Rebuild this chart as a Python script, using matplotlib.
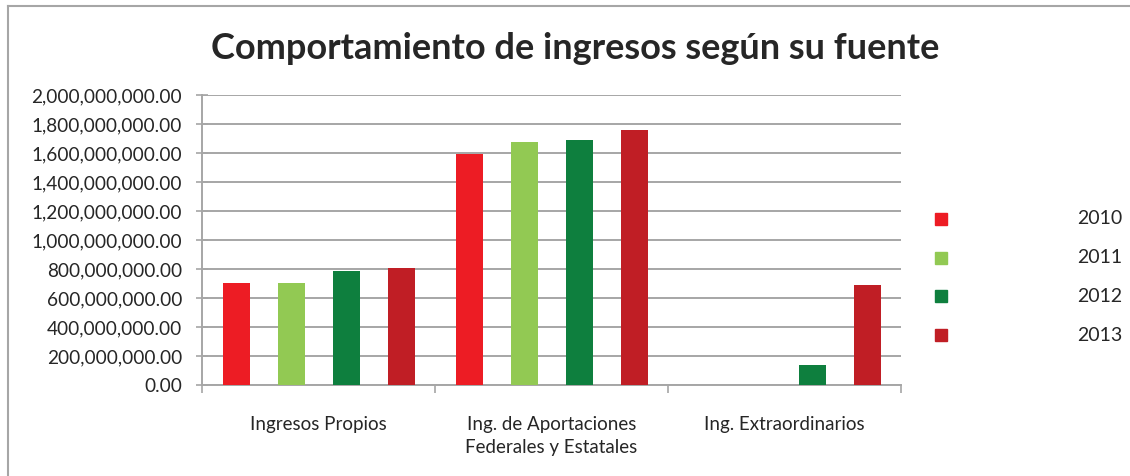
import matplotlib.pyplot as plt
import matplotlib.patches as mpatches
from matplotlib.lines import Line2D
from matplotlib.ticker import FuncFormatter
import numpy as np

plt.rcParams['font.family'] = ['Lato', 'DejaVu Sans']

categorias = ['Ingresos Propios', 'Ing. de Aportaciones\nFederales y Estatales', 'Ing. Extraordinarios']
anios = ['2010', '2011', '2012', '2013']
v2010 = [706e6, 1593e6, 0]
v2011 = [706e6, 1678e6, 0]
v2012 = [784e6, 1690e6, 135e6]
v2013 = [807e6, 1756e6, 693e6]
colores = ['#ED1C24', '#92C953', '#0E7F3E', '#C01E25']
series = [v2010, v2011, v2012, v2013]

fig = plt.figure(figsize=(11.3, 4.76), dpi=100)
ax = fig.add_axes([0.1788, 0.1912, 0.6186, 0.6092])

x = np.arange(len(categorias))
for i, vals in enumerate(series):
    ax.bar(x + (i - 1.5) * 0.236, vals, width=0.116, color=colores[i], zorder=3)

ax.set_xlim(-0.5, 2.5)
ax.set_ylim(0, 2e9)
ax.set_yticks(np.arange(0, 2.01e9, 2e8))
ax.yaxis.set_major_formatter(FuncFormatter(lambda v, p: f'{v:,.2f}'))
ax.grid(axis='y', color='#A6A6A6', linewidth=1.4, zorder=0)
ax.tick_params(axis='y', direction='inout', length=9, color='#A6A6A6', width=1.2,
               labelsize=13.7, labelcolor='#262626', pad=10)

ax.set_xticks([-0.5, 0.5, 1.5, 2.5])
ax.set_xticklabels([])
ax.set_xticks(x, minor=True)
ax.set_xticklabels(categorias, minor=True, fontsize=13.5, color='#262626', linespacing=1.45)
ax.tick_params(axis='x', which='major', direction='out', length=6, color='#A6A6A6', width=1.2)
ax.tick_params(axis='x', which='minor', length=0, pad=22)
for s in ['top', 'right']:
    ax.spines[s].set_visible(False)
for s in ['left', 'bottom']:
    ax.spines[s].set_color('#A6A6A6')
    ax.spines[s].set_linewidth(1.4)

fig.text(0.509, 0.898, 'Comportamiento de ingresos según su fuente', ha='center', va='center',
         fontsize=26, fontweight='bold', color='#262626')

# legend
for i, (a, c) in enumerate(zip(anios, colores)):
    yy = 1 - (219 + i * 38.7) / 476
    fig.patches.append(mpatches.Rectangle((935 / 1130, yy - 6 / 476), 12 / 1130, 12 / 476,
                                          transform=fig.transFigure, color=c))
    fig.text(1122 / 1130, yy, a, ha='right', va='center', fontsize=14, color='#262626')

# chart border
fig.add_artist(Line2D([8 / 1130, 1.0], [1 - 6 / 476, 1 - 6 / 476], color='#A6A6A6', linewidth=1.5,
                      transform=fig.transFigure))
fig.add_artist(Line2D([8 / 1130, 8 / 1130], [0, 1 - 6 / 476], color='#A6A6A6', linewidth=1.5,
                      transform=fig.transFigure))

fig.savefig('out.png', dpi=100)
